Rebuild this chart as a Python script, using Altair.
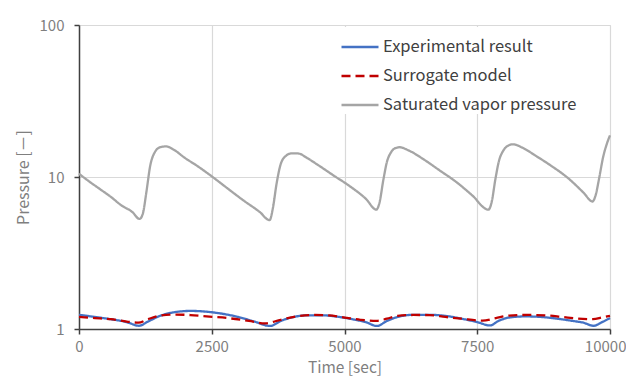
import altair as alt
import pandas as pd

# ---- data ----
sat_t = [0, 200, 400, 600, 800, 1000, 1140, 1200, 1270, 1340, 1430, 1530, 1640, 1800, 2000, 2200,
         2500, 2800, 3100, 3400, 3590, 3650, 3720, 3800, 3900, 4000, 4120, 4300, 4500, 4800, 5100,
         5400, 5600, 5660, 5730, 5800, 5880, 5960, 6040, 6200, 6500, 6800, 7100, 7400, 7710, 7770,
         7840, 7910, 7990, 8070, 8170, 8350, 8600, 8900, 9200, 9500, 9670, 9730, 9800, 9870, 9940, 10000]
sat_v = [10.5, 9.3, 8.3, 7.4, 6.5, 5.9, 5.3, 5.7, 8.0, 11.8, 14.6, 15.7, 15.9, 15.0, 13.3, 12.0,
         10.1, 8.4, 7.0, 5.9, 5.2, 6.2, 9.0, 12.2, 13.8, 14.3, 14.3, 13.3, 12.0, 10.2, 8.7,
         7.2, 6.1, 6.8, 9.5, 12.6, 14.6, 15.5, 15.7, 15.0, 13.0, 11.0, 9.3, 7.6, 6.1, 6.8,
         9.6, 12.8, 14.9, 16.0, 16.4, 15.6, 13.8, 11.8, 9.9, 7.9, 6.9, 7.6, 10.0, 13.5, 16.5, 18.8]

exp_t = [0, 300, 600, 900, 1130, 1300, 1500, 1800, 2100, 2400, 2700, 3000, 3300, 3600, 3800, 4000,
         4300, 4600, 4900, 5200, 5400, 5610, 5800, 6000, 6300, 6600, 6900, 7200, 7500, 7740, 7900,
         8100, 8400, 8700, 9000, 9300, 9500, 9690, 9850, 10000]
exp_v = [1.24, 1.2, 1.16, 1.11, 1.05, 1.12, 1.21, 1.29, 1.315, 1.3, 1.26, 1.2, 1.12, 1.047, 1.13, 1.19,
         1.23, 1.23, 1.2, 1.15, 1.11, 1.047, 1.13, 1.2, 1.24, 1.24, 1.22, 1.17, 1.11, 1.055, 1.13,
         1.19, 1.21, 1.2, 1.17, 1.13, 1.1, 1.05, 1.11, 1.18]

sur_t = [0, 300, 600, 900, 1120, 1300, 1500, 1800, 2100, 2400, 2800, 3200, 3500, 3800, 4100, 4400,
         4700, 5000, 5300, 5600, 5800, 6000, 6300, 6600, 6900, 7200, 7600, 7850, 8100, 8450, 8800,
         9100, 9400, 9680, 9850, 10000]
sur_v = [1.2, 1.18, 1.16, 1.12, 1.1, 1.16, 1.22, 1.245, 1.235, 1.21, 1.18, 1.13, 1.09, 1.15, 1.21, 1.237,
         1.23, 1.19, 1.15, 1.13, 1.17, 1.22, 1.237, 1.235, 1.2, 1.17, 1.135, 1.18, 1.225, 1.237, 1.23,
         1.2, 1.17, 1.16, 1.19, 1.22]

series_names = ["Experimental result", "Surrogate model", "Saturated vapor pressure"]
series_colors = ["#4472c4", "#c00000", "#a5a5a5"]
series_dash = [[1, 0], [9, 5], [1, 0]]

x_ticks = [0, 2500, 5000, 7500, 10000]
y_ticks = [1, 10, 100]

rows = []
for t, v in zip(exp_t, exp_v):
    rows.append({"time": t, "value": v, "series": series_names[0]})
for t, v in zip(sur_t, sur_v):
    rows.append({"time": t, "value": v, "series": series_names[1]})
for t, v in zip(sat_t, sat_v):
    rows.append({"time": t, "value": v, "series": series_names[2]})
df = pd.DataFrame(rows)

FONT = "Noto Sans CJK JP"


def make_legend():
    return alt.Legend(title=None, orient="none", legendX=261, legendY=2,
                      symbolType="stroke", symbolSize=1369, symbolStrokeWidth=2.5,
                      labelFontSize=16.5, labelColor="#404040", labelFont=FONT,
                      rowPadding=-1, padding=0, fillColor="white",
                      labelOffset=3, labelLimit=400)


chart = alt.Chart(df).mark_line(interpolate="monotone", strokeWidth=2.3).encode(
    x=alt.X("time:Q", title="Time [sec]",
            scale=alt.Scale(domain=[0, 10000], nice=False),
            axis=alt.Axis(values=x_ticks, format="d", tickSize=5, labelPadding=5,
                          titlePadding=6, labelFontSize=15, titleFontSize=15.5,
                          titleFontWeight="normal",
                          labelAlign={"condition": {"test": "datum.value >= 10000", "value": "right"},
                                      "value": "center"},
                          labelOffset={"condition": {"test": "datum.value >= 10000", "value": 16},
                                       "value": 0},
                          labelColor="#7f7f7f", titleColor="#7f7f7f",
                          domainColor="#404040", tickColor="#404040",
                          domainWidth=1.5, tickWidth=1.5,
                          gridColor="#d9d9d9", gridWidth=1.2,
                          labelFont=FONT, titleFont=FONT, labelFlush=False)),
    y=alt.Y("value:Q", title="Pressure [－]",
            scale=alt.Scale(type="log", domain=[1, 100], nice=False),
            axis=alt.Axis(values=y_ticks, format="d", tickSize=5, labelPadding=10,
                          titlePadding=8, labelFontSize=15, titleFontSize=16,
                          titleFontWeight="normal",
                          labelColor="#7f7f7f", titleColor="#7f7f7f",
                          domainColor="#404040", tickColor="#404040",
                          domainWidth=1.5, tickWidth=1.5,
                          gridColor="#d9d9d9", gridWidth=1.2,
                          labelFont=FONT, titleFont=FONT)),
    color=alt.Color("series:N", sort=series_names,
                    scale=alt.Scale(domain=series_names, range=series_colors),
                    legend=make_legend()),
    strokeDash=alt.StrokeDash("series:N", sort=series_names,
                              scale=alt.Scale(domain=series_names, range=series_dash),
                              legend=make_legend()),
    order=alt.Order("time:Q"),
).properties(
    width=531, height=304,
    autosize=alt.AutoSizeParams(type="none"),
    padding={"left": 71, "top": 17, "right": 16, "bottom": 47},
).configure_view(
    stroke="#a6a6a6", strokeWidth=1.5
).configure(background="white")

chart.save("out.html", embed_options={"renderer": "svg", "actions": False})
